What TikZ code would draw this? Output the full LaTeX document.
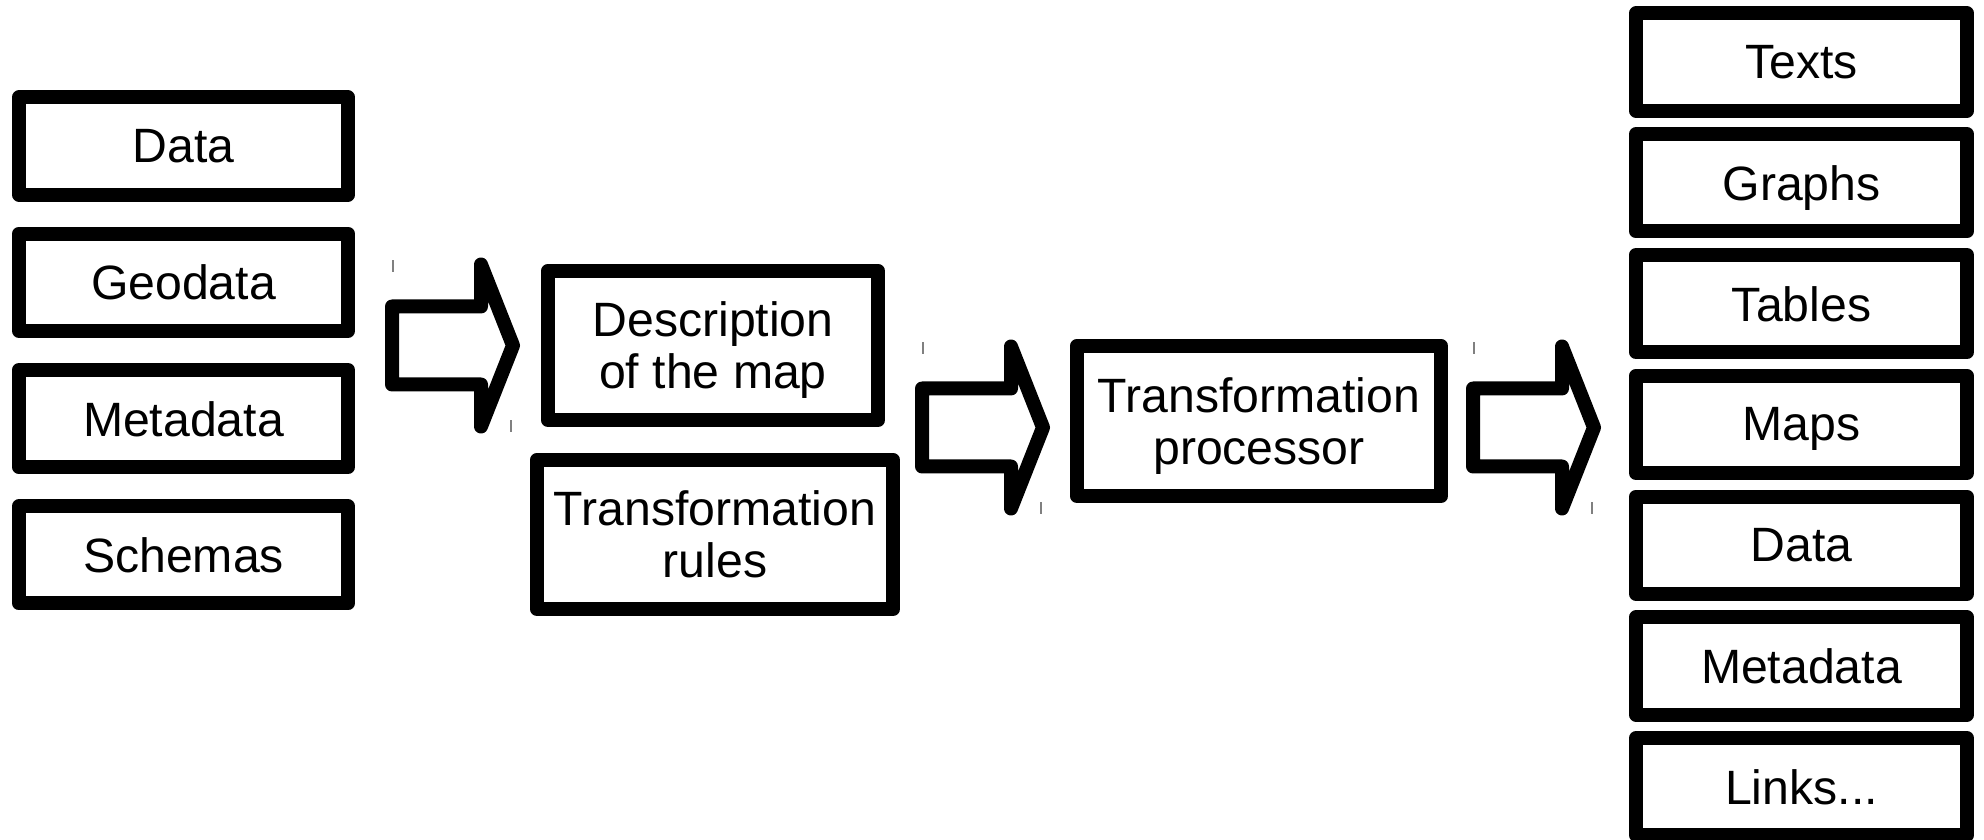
\documentclass[tikz,border=0pt]{standalone}
\usepackage{fontspec}
\setmainfont{Liberation Sans}
\usepackage{tikz}
\usetikzlibrary{positioning}

\begin{document}
\begin{tikzpicture}[x=0.01cm,y=-0.01cm,
	box/.style={draw, line width=3.98pt, line join=round, align=center, text depth=0pt, inner sep=0pt,
		font=\fontsize{13.7}{14.8}\selectfont},
	lbox/.style={box, minimum width=3.29cm, minimum height=0.97cm},
	rbox/.style={box, minimum width=3.31cm, minimum height=0.97cm},
	fat/.style={line width=3.98pt, line join=round},
	tick/.style={gray, line width=0.4pt}]
			\useasboundingbox (0,0) rectangle (1984,840);
			% inputs
			\foreach \name/\txt [count=\i from 0] in {data/Data, geo/Geodata, meta/Metadata, schema/Schemas}
				\node[lbox] (\name) at (183.5,146+136.3*\i) {\txt};
			% map description and rules
			\node[box, minimum width=3.30cm, minimum height=1.49cm] (descr) at (713,345.5) {Description\\of the map};
			\node[box, minimum width=3.56cm, minimum height=1.49cm] (rules) at (715,534.5) {Transformation\\rules};
			\node[box, minimum width=3.64cm, minimum height=1.50cm] (proc) at (1259,421) {Transformation\\processor};
			% outputs
			\foreach \name/\txt [count=\i from 0] in {texts/Texts, graphs/Graphs, tables/Tables, maps/Maps, odata/Data, ometa/Metadata, links/{Links...}}
				\node[rbox] (\name) at (1801.5,62+120.8*\i) {\txt};
			% block arrows
			\foreach \ax/\ay in {392/345.5, 922/427.5, 1473/427.5}{
				\draw[fat] (\ax,\ay-39) -- ++(89,0) -- ++(0,-42) -- ++(32,81) -- ++(-32,81) -- ++(0,-42) -- (\ax,\ay+39) -- cycle;
				\draw[tick] (\ax+1,\ay-85) -- ++(0,12);
				\draw[tick] (\ax+119,\ay+75) -- ++(0,12);
			}
\end{tikzpicture}
\end{document}
